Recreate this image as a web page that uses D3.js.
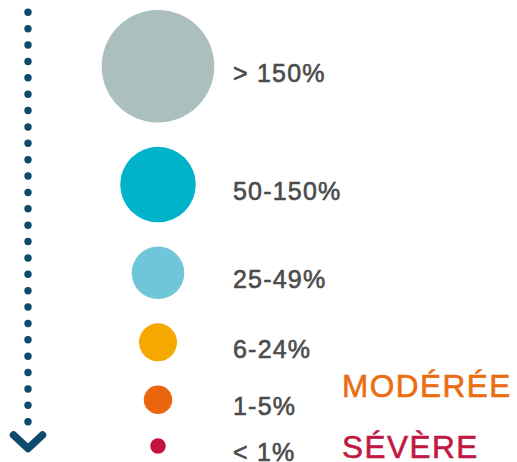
<!DOCTYPE html>
<html>
<head>
<meta charset="utf-8">
<script src="https://cdn.jsdelivr.net/npm/d3@7"></script>
<style>
  html, body { margin: 0; padding: 0; background: #fff; }
  svg { display: block; }
</style>
</head>
<body>
<svg id="chart" width="517" height="462"></svg>
<script>
// legend classes, from the largest to the smallest
const labels = ['> 150%', '50-150%', '25-49%', '6-24%', '1-5%', '< 1%'];
// relative area of each bubble (largest = 100)
const areas = [100, 45, 21.8, 11.4, 6.4, 1.9];
const colors = ['#abbfbe', '#00b3ca', '#6fc6d9', '#f5a800', '#e9660d', '#c3143f'];
// severity tags shown on the right
const tags = ['MODÉRÉE', 'SÉVÈRE'];
const tagColors = ['#ec6c10', '#c11a42'];

const width = 517, height = 462;
const svg = d3.select('#chart');

const r = d3.scaleSqrt().domain([0, 100]).range([0, 56.3]);

// stack the bubbles with a constant gap between edges
const gap = 24.2;
let y = 10;
const items = labels.map((l, i) => {
    const rad = r(areas[i]);
    const cy = y + rad;
    y = cy + rad + gap;
    return { label: l, rad: rad, cy: cy, color: colors[i] };
});

const cx = 158;
svg.selectAll('circle.bubble').data(items)
    .enter()
    .append('circle')
    .attr('class', 'bubble')
    .attr('cx', cx)
    .attr('cy', d => d.cy)
    .attr('r', d => d.rad)
    .style('fill', d => d.color);

svg.selectAll('text.lbl').data(items)
    .enter()
    .append('text')
    .attr('class', 'lbl')
    .attr('x', 233)
    .attr('y', d => d.cy + 15.5)
    .text(d => d.label)
    .style('font-family', '"Liberation Sans", Arial, sans-serif')
    .style('font-size', '25px')
    .style('letter-spacing', '1.2px')
    .style('fill', '#4b4b4b')
    .style('stroke', '#4b4b4b')
    .style('stroke-width', '0.6px');

// severity tags aligned with the two smallest classes
const tagY = d3.scalePoint().domain(tags).range([397, 458]);
svg.selectAll('text.tag').data(tags)
    .enter()
    .append('text')
    .attr('class', 'tag')
    .attr('x', 342)
    .attr('y', d => tagY(d))
    .text(d => d)
    .style('font-family', '"Liberation Sans", Arial, sans-serif')
    .style('font-size', '31.5px')
    .style('letter-spacing', '1.5px')
    .style('fill', (d, i) => tagColors[i])
    .style('stroke', (d, i) => tagColors[i])
    .style('stroke-width', '0.6px');

// dotted arrow on the left
const arrowColor = '#0d4a6b';
const nDots = 26;
const dotY = d3.scaleLinear().domain([0, nDots - 1]).range([12.3, 421.7]);
svg.selectAll('circle.dot').data(d3.range(nDots))
    .enter()
    .append('circle')
    .attr('class', 'dot')
    .attr('cx', 28)
    .attr('cy', d => dotY(d))
    .attr('r', 3.7)
    .style('fill', arrowColor);

svg.append('path')
    .attr('d', d3.line()([[13.5, 435], [28, 448.5], [42.5, 435]]))
    .style('fill', 'none')
    .style('stroke', arrowColor)
    .style('stroke-width', 7.5)
    .style('stroke-linecap', 'round')
    .style('stroke-linejoin', 'round');
</script>
</body>
</html>
